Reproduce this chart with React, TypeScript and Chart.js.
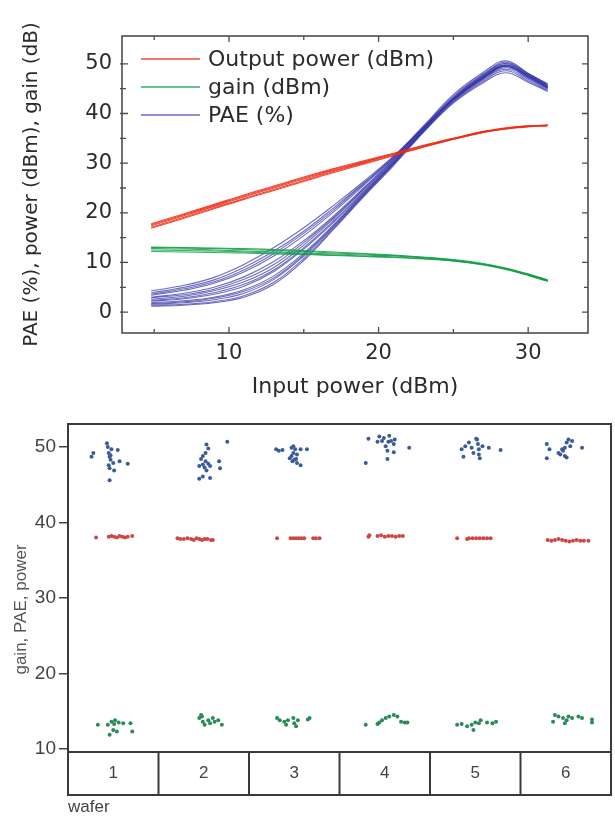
import React, { useEffect, useRef } from 'react';
import { Chart, registerables } from 'chart.js';

Chart.register(...registerables);

// ---------------- Top chart data ----------------
const inputPower = [4.8, 7, 9, 11, 13, 15, 17, 19, 21, 23, 25, 27, 28.5, 30, 31.3];

const powerCurve1 = [17.8, 19.8, 21.7, 23.6, 25.4, 27.2, 28.9, 30.5, 32.0, 33.6, 35.0, 36.4, 37.1, 37.5, 37.7];
const powerCurve2 = [17.6, 19.6, 21.5, 23.4, 25.2, 27.0, 28.7, 30.3, 31.9, 33.5, 35.0, 36.3, 37.0, 37.5, 37.6];
const powerCurve3 = [17.4, 19.4, 21.3, 23.2, 25.0, 26.8, 28.5, 30.2, 31.8, 33.4, 34.9, 36.3, 37.0, 37.4, 37.6];
const powerCurve4 = [17.1, 19.1, 21.0, 22.9, 24.7, 26.5, 28.3, 30.0, 31.6, 33.3, 34.8, 36.2, 36.9, 37.4, 37.6];
const powerCurve5 = [16.9, 18.9, 20.8, 22.7, 24.5, 26.3, 28.1, 29.8, 31.5, 33.2, 34.8, 36.2, 36.9, 37.3, 37.5];

const gainCurve1 = [13.1, 13.0, 12.9, 12.8, 12.6, 12.4, 12.1, 11.8, 11.5, 11.1, 10.6, 9.8, 8.9, 7.7, 6.5];
const gainCurve2 = [13.0, 12.9, 12.8, 12.6, 12.4, 12.2, 11.9, 11.7, 11.4, 11.0, 10.5, 9.7, 8.8, 7.6, 6.4];
const gainCurve3 = [12.8, 12.7, 12.5, 12.3, 12.1, 11.9, 11.7, 11.5, 11.3, 10.9, 10.4, 9.6, 8.7, 7.5, 6.3];
const gainCurve4 = [12.5, 12.4, 12.3, 12.1, 11.9, 11.7, 11.5, 11.3, 11.1, 10.8, 10.3, 9.6, 8.7, 7.5, 6.3];
const gainCurve5 = [12.2, 12.1, 12.0, 11.9, 11.7, 11.6, 11.4, 11.2, 11.0, 10.7, 10.3, 9.5, 8.6, 7.4, 6.2];

const paeCurve1 = [4.3, 5.4, 7.0, 9.6, 13.0, 17.0, 21.5, 26.3, 31.4, 37.2, 43.0, 47.4, 49.6, 47.6, 45.4];
const paeCurve2 = [3.9, 5.0, 6.5, 9.0, 12.3, 16.3, 21.0, 26.0, 31.3, 37.5, 43.8, 48.3, 50.6, 48.1, 45.9];
const paeCurve3 = [3.4, 4.4, 5.8, 8.1, 11.3, 15.4, 20.2, 25.5, 31.0, 37.0, 42.8, 47.2, 49.5, 47.4, 45.2];
const paeCurve4 = [3.0, 3.8, 5.0, 7.1, 10.2, 14.4, 19.4, 25.0, 30.8, 37.3, 43.5, 48.0, 50.3, 48.0, 46.0];
const paeCurve5 = [2.6, 3.2, 4.3, 6.1, 9.0, 13.5, 18.8, 24.6, 30.5, 36.8, 42.7, 47.0, 49.2, 47.2, 45.0];
const paeCurve6 = [2.2, 2.7, 3.6, 5.2, 8.2, 12.7, 18.1, 24.1, 30.2, 36.9, 43.2, 47.8, 50.0, 47.8, 45.6];
const paeCurve7 = [1.9, 2.3, 3.0, 4.5, 7.3, 11.9, 17.6, 23.9, 30.0, 36.5, 42.5, 46.8, 48.9, 46.9, 44.8];
const paeCurve8 = [1.6, 1.9, 2.5, 3.8, 6.6, 11.3, 17.2, 23.6, 29.9, 36.6, 42.9, 47.4, 49.7, 47.5, 45.3];
const paeCurve9 = [1.4, 1.6, 2.1, 3.3, 6.0, 10.8, 16.9, 23.4, 29.7, 36.3, 42.3, 46.5, 48.6, 46.6, 44.6];
const paeCurve10 = [1.2, 1.4, 1.9, 3.0, 5.6, 10.4, 16.7, 23.2, 29.5, 36.2, 42.1, 46.2, 48.2, 46.3, 44.4];
const paeCurve11 = [2.9, 3.5, 4.6, 6.6, 9.6, 14.0, 19.1, 24.8, 30.7, 37.0, 43.0, 47.5, 49.8, 47.7, 45.5];
const paeCurve12 = [1.7, 2.1, 2.8, 4.2, 6.9, 11.6, 17.4, 23.7, 30.0, 36.4, 42.6, 47.1, 49.4, 47.2, 45.1];
const paeCurve13 = [2.4, 2.9, 3.9, 5.6, 8.5, 13.0, 18.4, 24.3, 30.3, 36.7, 42.9, 47.3, 49.6, 47.5, 45.3];
const paeCurve14 = [3.6, 4.7, 6.1, 8.5, 11.8, 15.9, 20.6, 25.8, 31.1, 37.1, 43.2, 47.7, 50.1, 47.9, 45.7];

const powerCurves = [powerCurve1, powerCurve2, powerCurve3, powerCurve4, powerCurve5];
const gainCurves = [gainCurve1, gainCurve2, gainCurve3, gainCurve4, gainCurve5];
const paeCurves = [
  paeCurve1, paeCurve2, paeCurve3, paeCurve4, paeCurve5, paeCurve6, paeCurve7,
  paeCurve8, paeCurve9, paeCurve10, paeCurve11, paeCurve12, paeCurve13, paeCurve14,
];

const legendLabels = ['Output power (dBm)', 'gain (dBm)', 'PAE (%)'];
const topXTicks = [10, 20, 30];
const topXMinorTicks = [5, 15, 25];
const topYTicks = [0, 10, 20, 30, 40, 50];
const topYMinorTicks = [5, 15, 25, 35, 45];
const topXTitle = 'Input power (dBm)';
const topYTitle = 'PAE (%), power (dBm), gain (dB)';

// ---------------- Bottom chart data ----------------
const waferLabels = ['1', '2', '3', '4', '5', '6'];
const waferPositions = [1, 2, 3, 4, 5, 6];
const bottomYTicks = [10, 20, 30, 40, 50];
const bottomYTitle = 'gain, PAE, power';
const bottomXTitle = 'wafer';

const paeX = [
  [0.78, 0.76, 0.93, 0.94, 0.98, 1.05, 0.95, 0.96, 0.97, 1.07, 1.16, 0.95, 0.96, 1.01, 0.96, 1.00, 0.97],
  [2.03, 2.05, 2.02, 1.99, 1.97, 2.02, 2.05, 1.99, 1.95, 2.01, 2.07, 2.03, 1.95, 1.99, 2.07, 2.17, 2.18, 2.26],
  [2.80, 2.83, 2.87, 2.97, 3.01, 2.99, 2.97, 2.95, 2.98, 3.02, 3.03, 3.07, 3.07, 3.14, 2.99, 3.03, 3.00],
  [3.79, 3.82, 3.92, 3.94, 3.97, 3.99, 4.01, 4.03, 4.04, 4.05, 4.07, 4.10, 4.10, 4.03, 4.27, 4.11],
  [4.85, 4.89, 4.87, 4.93, 4.96, 4.98, 5.02, 5.03, 5.04, 5.04, 5.05, 5.01, 5.15, 5.28, 5.08],
  [5.79, 5.82, 5.79, 5.92, 5.94, 5.97, 5.99, 6.01, 6.03, 6.05, 6.01, 5.99, 6.18, 6.07, 5.96],
];
const paeY = [
  [49.2, 48.7, 50.5, 50.0, 49.7, 49.6, 49.2, 48.7, 48.3, 48.1, 47.8, 47.6, 47.2, 46.9, 45.6, 47.9, 48.9],
  [50.35, 49.8, 49.2, 48.8, 48.4, 48.1, 47.8, 47.7, 47.5, 47.3, 47.5, 46.9, 45.8, 46.1, 45.9, 48.1, 47.2, 50.7],
  [49.7, 49.5, 49.6, 49.9, 49.7, 49.2, 48.8, 48.5, 48.1, 48.4, 47.9, 47.6, 49.7, 49.7, 50.1, 49.0, 48.3],
  [47.9, 51.1, 50.7, 51.4, 50.8, 51.2, 50.1, 49.5, 50.7, 51.5, 50.8, 50.4, 49.3, 48.4, 49.9, 51.0],
  [49.7, 50.1, 48.7, 50.6, 49.9, 49.2, 51.0, 50.4, 49.7, 49.0, 48.5, 51.1, 49.9, 49.6, 50.1],
  [50.4, 49.7, 48.5, 49.2, 49.0, 49.5, 49.9, 50.6, 51.0, 50.1, 48.6, 48.8, 49.9, 50.8, 49.7],
];

const powerX = [
  [0.81, 0.95, 0.98, 1.01, 1.04, 1.07, 1.10, 1.13, 1.16, 1.21],
  [1.71, 1.74, 1.78, 1.82, 1.86, 1.89, 1.92, 1.95, 1.98, 2.01, 2.04, 2.08, 2.10],
  [2.81, 2.96, 2.99, 3.02, 3.05, 3.08, 3.11, 3.21, 3.24, 3.28],
  [3.82, 3.83, 3.92, 3.96, 4.00, 4.04, 4.08, 4.12, 4.16, 4.20],
  [4.80, 4.91, 4.93, 4.97, 5.01, 5.05, 5.09, 5.13, 5.17],
  [5.80, 5.84, 5.88, 5.92, 5.96, 6.00, 6.04, 6.08, 6.12, 6.16, 6.20, 6.25],
];
const powerY = [
  [38.0, 38.1, 38.2, 38.1, 38.0, 38.2, 38.1, 38.0, 38.1, 38.2],
  [37.9, 37.8, 37.8, 37.9, 37.8, 37.7, 37.9, 37.8, 37.7, 37.8, 37.8, 37.7, 37.7],
  [37.9, 37.9, 37.9, 37.9, 37.9, 37.9, 37.9, 37.9, 37.9, 37.9],
  [38.1, 38.3, 38.2, 38.3, 38.1, 38.2, 38.2, 38.1, 38.2, 38.2],
  [37.9, 37.8, 37.9, 37.9, 37.9, 37.9, 37.9, 37.9, 37.9],
  [37.7, 37.6, 37.7, 37.8, 37.7, 37.6, 37.5, 37.6, 37.7, 37.6, 37.6, 37.6],
];

const gainX = [
  [0.83, 0.94, 0.98, 1.02, 1.06, 1.11, 1.19, 1.00, 0.96, 1.04, 1.21, 1.01],
  [1.95, 1.97, 1.99, 2.01, 2.05, 2.07, 2.12, 2.16, 2.20, 1.98, 2.10],
  [2.81, 2.84, 2.89, 2.93, 2.99, 3.00, 3.02, 3.04, 3.15, 3.17, 2.91],
  [3.79, 3.92, 3.97, 4.01, 4.05, 4.10, 4.14, 4.18, 4.22, 4.25, 3.94],
  [4.80, 4.85, 4.91, 4.96, 4.98, 5.00, 5.04, 5.06, 5.13, 5.19, 5.23],
  [5.86, 5.88, 5.92, 5.97, 6.01, 6.03, 6.07, 6.14, 6.18, 6.29, 6.29, 5.99],
];
const gainY = [
  [13.2, 13.2, 13.6, 13.8, 13.5, 13.4, 13.4, 12.5, 11.9, 12.3, 12.3, 13.3],
  [14.1, 14.5, 13.6, 13.2, 13.8, 13.4, 13.6, 13.8, 13.2, 14.3, 14.1],
  [14.1, 13.8, 13.6, 13.8, 14.1, 13.4, 13.0, 13.8, 13.9, 14.1, 13.2],
  [13.2, 13.3, 13.8, 14.1, 14.3, 14.5, 14.3, 13.6, 13.5, 13.5, 13.5],
  [13.2, 13.3, 13.0, 13.2, 12.5, 13.5, 13.4, 13.8, 13.5, 13.4, 13.6],
  [13.6, 14.5, 14.3, 14.1, 13.8, 14.3, 14.1, 14.3, 14.1, 13.9, 13.5, 13.4],
];

// ---------------- styling ----------------
const TOP_FONT = "'DejaVu Sans', sans-serif";
const BOT_FONT = "'Liberation Sans', Arial, sans-serif";
const TOP_TEXT = '#2b2b2b';
const RED = 'rgba(238, 44, 20, 0.85)';
const GREEN = 'rgba(18, 158, 70, 0.85)';
const BLUE = 'rgba(52, 52, 168, 0.72)';
const seriesColors = [RED, GREEN, BLUE];

const toPoints = (ys: number[]) => inputPower.map((x, i) => ({ x, y: ys[i] }));
const toScatter = (xs: number[][], ys: number[][]) => {
  const pts: { x: number; y: number }[] = [];
  xs.forEach((row, w) => row.forEach((x, i) => pts.push({ x, y: ys[w][i] })));
  return pts;
};

const topFramePlugin = {
  id: 'topFrame',
  afterDraw(chart: any) {
    const { ctx, chartArea } = chart;
    const { left, right, top, bottom } = chartArea;
    const xs = chart.scales.x;
    const ys = chart.scales.y;
    ctx.save();
    ctx.strokeStyle = '#4d4d4d';
    ctx.lineWidth = 1.6;
    ctx.strokeRect(left, top, right - left, bottom - top);
    ctx.lineWidth = 1.3;
    const tickX = (v: number, len: number) => {
      const px = xs.getPixelForValue(v);
      ctx.beginPath();
      ctx.moveTo(px, bottom); ctx.lineTo(px, bottom - len);
      ctx.moveTo(px, top); ctx.lineTo(px, top + len);
      ctx.stroke();
    };
    const tickY = (v: number, len: number) => {
      const py = ys.getPixelForValue(v);
      ctx.beginPath();
      ctx.moveTo(left - 2, py); ctx.lineTo(left + len, py);
      ctx.moveTo(right, py); ctx.lineTo(right - len, py);
      ctx.stroke();
    };
    topXTicks.forEach((v) => tickX(v, 6));
    topXMinorTicks.forEach((v) => tickX(v, 4));
    topYTicks.forEach((v) => tickY(v, 6));
    topYMinorTicks.forEach((v) => tickY(v, 4));

    // legend
    ctx.font = `22px ${TOP_FONT}`;
    ctx.textBaseline = 'middle';
    ctx.textAlign = 'left';
    legendLabels.forEach((label, i) => {
      const y = top + 23 + i * 28;
      ctx.strokeStyle = seriesColors[i];
      ctx.lineWidth = 1.5;
      ctx.beginPath();
      ctx.moveTo(left + 19, y);
      ctx.lineTo(left + 78, y);
      ctx.stroke();
      ctx.fillStyle = TOP_TEXT;
      ctx.fillText(label, left + 86, y + 1);
    });
    ctx.restore();
  },
};

const bottomFramePlugin = {
  id: 'bottomFrame',
  afterDraw(chart: any) {
    const { ctx, chartArea } = chart;
    const { left, right, top, bottom } = chartArea;
    const xs = chart.scales.x;
    const tableBottom = bottom + 43;
    ctx.save();
    ctx.strokeStyle = '#3a3a3a';
    ctx.lineWidth = 2;
    ctx.strokeRect(left, top, right - left, tableBottom - top);
    ctx.beginPath();
    ctx.moveTo(left, bottom);
    ctx.lineTo(right, bottom);
    waferPositions.slice(0, -1).forEach((w) => {
      const px = xs.getPixelForValue(w + 0.5);
      ctx.moveTo(px, bottom);
      ctx.lineTo(px, tableBottom);
    });
    ctx.stroke();

    ctx.translate(21, (top + tableBottom) / 2);
    ctx.rotate(-Math.PI / 2);
    ctx.font = `17px ${BOT_FONT}`;
    ctx.fillStyle = '#555';
    ctx.textAlign = 'center';
    ctx.textBaseline = 'middle';
    ctx.fillText(bottomYTitle, 0, 0);
    ctx.restore();
  },
};

function TopChart() {
  const ref = useRef<HTMLCanvasElement | null>(null);
  useEffect(() => {
    if (!ref.current) return;
    const datasets: any[] = [];
    gainCurves.forEach((c) =>
      datasets.push({ data: toPoints(c), borderColor: GREEN, borderWidth: 1.1, pointRadius: 0, tension: 0.4, fill: false })
    );
    powerCurves.forEach((c) =>
      datasets.push({ data: toPoints(c), borderColor: RED, borderWidth: 1.1, pointRadius: 0, tension: 0.4, fill: false })
    );
    paeCurves.forEach((c) =>
      datasets.push({ data: toPoints(c), borderColor: BLUE, borderWidth: 1.1, pointRadius: 0, tension: 0.4, fill: false })
    );
    const chart = new Chart(ref.current, {
      type: 'line',
      data: { datasets },
      options: {
        responsive: false,
        animation: false,
        layout: { padding: { left: 0, top: 36, right: 27, bottom: 0 } },
        plugins: { legend: { display: false }, tooltip: { enabled: false } },
        scales: {
          x: {
            type: 'linear',
            min: 2.85,
            max: 34,
            afterFit: (s: any) => { s.height = 67; },
            afterBuildTicks: (s: any) => { s.ticks = topXTicks.map((v) => ({ value: v })); },
            grid: { display: false, drawTicks: false },
            border: { display: false },
            ticks: { font: { family: TOP_FONT, size: 21 }, color: TOP_TEXT, padding: 8, maxRotation: 0, autoSkip: false },
            title: { display: true, text: topXTitle, font: { family: TOP_FONT, size: 22 }, color: TOP_TEXT, padding: { top: 0, bottom: 0 } },
          },
          y: {
            type: 'linear',
            min: -4.2,
            max: 55.6,
            afterFit: (s: any) => { s.width = 122; },
            afterBuildTicks: (s: any) => { s.ticks = topYTicks.map((v) => ({ value: v })); },
            grid: { display: false, drawTicks: false },
            border: { display: false },
            ticks: { font: { family: TOP_FONT, size: 21 }, color: TOP_TEXT, padding: 10 },
            title: { display: true, text: topYTitle, font: { family: TOP_FONT, size: 20 }, color: TOP_TEXT, padding: { top: 20, bottom: 0 } },
          },
        },
      },
      plugins: [topFramePlugin],
    } as any);
    return () => chart.destroy();
  }, []);
  return <canvas ref={ref} width={615} height={400} style={{ display: 'block' }} />;
}

function BottomChart() {
  const ref = useRef<HTMLCanvasElement | null>(null);
  useEffect(() => {
    if (!ref.current) return;
    const chart = new Chart(ref.current, {
      type: 'scatter',
      data: {
        datasets: [
          { label: 'PAE', data: toScatter(paeX, paeY), backgroundColor: '#3c5b9b', borderWidth: 0, pointRadius: 2.0 },
          { label: 'power', data: toScatter(powerX, powerY), backgroundColor: '#d24545', borderWidth: 0, pointRadius: 2.0 },
          { label: 'gain', data: toScatter(gainX, gainY), backgroundColor: '#2a8a58', borderWidth: 0, pointRadius: 2.0 },
        ],
      },
      options: {
        responsive: false,
        animation: false,
        layout: { padding: { left: 0, top: 24, right: 2, bottom: 0 } },
        plugins: { legend: { display: false }, tooltip: { enabled: false } },
        scales: {
          x: {
            type: 'linear',
            min: 0.5,
            max: 6.5,
            afterFit: (s: any) => { s.height = 69; },
            afterBuildTicks: (s: any) => { s.ticks = waferPositions.map((v) => ({ value: v })); },
            grid: { display: false, drawTicks: false },
            border: { display: false },
            ticks: {
              callback: (_v: any, i: number) => waferLabels[i],
              font: { family: BOT_FONT, size: 17 },
              color: '#444',
              padding: 11,
              maxRotation: 0,
              autoSkip: false,
            },
            title: { display: true, text: bottomXTitle, align: 'start', font: { family: BOT_FONT, size: 17 }, color: '#444', padding: { top: 0, bottom: 3 } },
          },
          y: {
            type: 'linear',
            min: 9.6,
            max: 53.05,
            afterFit: (s: any) => { s.width = 68; },
            afterBuildTicks: (s: any) => { s.ticks = bottomYTicks.map((v) => ({ value: v })); },
            grid: { drawOnChartArea: false, drawTicks: true, tickLength: 9, color: '#444', lineWidth: 1.5 },
            border: { display: false },
            ticks: { font: { family: BOT_FONT, size: 19 }, color: '#444', padding: 3 },
          },
        },
      },
      plugins: [bottomFramePlugin],
    } as any);
    return () => chart.destroy();
  }, []);
  return <canvas ref={ref} width={615} height={421} style={{ display: 'block' }} />;
}

export default function App() {
  return (
    <div style={{ position: 'absolute', left: 0, top: 0, width: 615, height: 821, background: '#fff' }}>
      <TopChart />
      <BottomChart />
    </div>
  );
}
